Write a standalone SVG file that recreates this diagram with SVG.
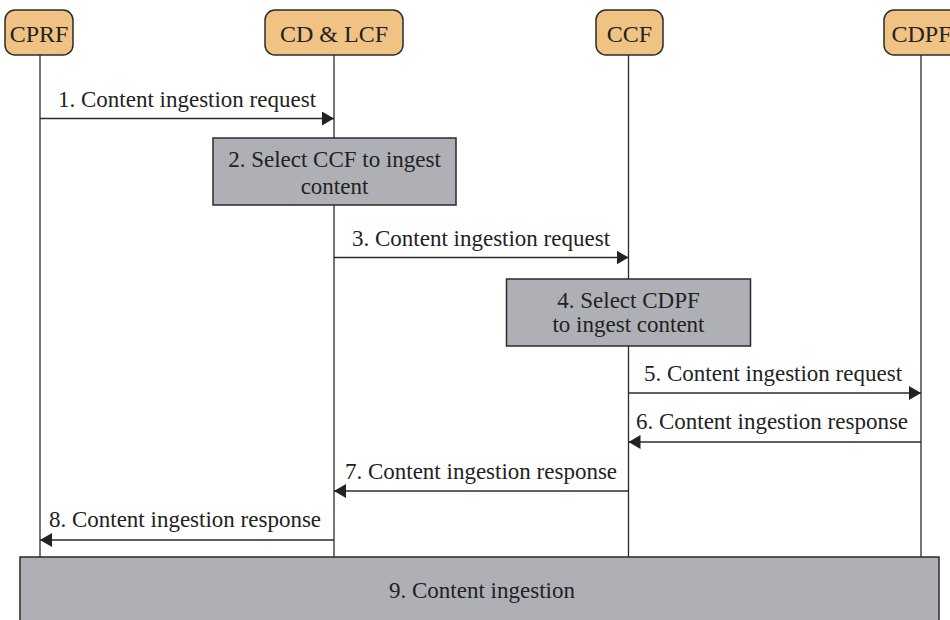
<svg xmlns="http://www.w3.org/2000/svg" width="950" height="620" viewBox="0 0 950 620">
<defs>
<style>
.hdr{fill:#f0c283;stroke:#2b2b2b;stroke-width:1.5}
.act{fill:#aeb0b6;stroke:#2b2b2b;stroke-width:1.5}
.life{stroke:#2b2b2b;stroke-width:1.3;fill:none}
.msg{stroke:#2b2b2b;stroke-width:1.3;fill:none}
text{fill:#222;text-anchor:middle}
.h{font-size:24px}
.t{font-size:23px}
</style>
<marker id="ah" viewBox="0 0 12 14" refX="12" refY="7" markerWidth="12" markerHeight="14" markerUnits="userSpaceOnUse" orient="auto">
<path d="M0,0 L12,7 L0,14 Z" fill="#222"/>
</marker>
</defs>
<rect width="950" height="620" fill="#fff"/>
<g id="lifelines">
<line class="life" x1="40" y1="55" x2="40" y2="557"/>
<line class="life" x1="334" y1="55" x2="334" y2="557"/>
<line class="life" x1="628.5" y1="55" x2="628.5" y2="557"/>
<line class="life" x1="921" y1="55" x2="921" y2="557"/>
</g>
<g font-family="'Liberation Serif', 'DejaVu Serif', serif">
<g id="CPRF"><rect class="hdr" x="5" y="10" width="68" height="45" rx="10"/><text class="h" x="39" y="42">CPRF</text></g>
<g id="CDLCF"><rect class="hdr" x="265" y="10" width="138" height="45" rx="10"/><text class="h" x="334" y="42">CD &amp; LCF</text></g>
<g id="CCF"><rect class="hdr" x="596" y="10" width="67" height="45" rx="10"/><text class="h" x="629.5" y="42">CCF</text></g>
<g id="CDPF"><rect class="hdr" x="884" y="10" width="76" height="45" rx="10"/><text class="h" x="921.5" y="42">CDPF</text></g>
<g id="step2"><rect class="act" x="213" y="138" width="243" height="67"/><text class="t" x="334.5" y="167">2. Select CCF to ingest</text><text class="t" x="334.5" y="194">content</text></g>
<g id="step4"><rect class="act" x="506.5" y="279" width="244" height="67"/><text class="t" x="628.5" y="308">4. Select CDPF</text><text class="t" x="628.5" y="332">to ingest content</text></g>
<g id="step9"><rect class="act" x="20" y="557" width="919" height="70"/><text class="t" x="482" y="598">9. Content ingestion</text></g>
<g id="connectors">
<line class="msg" x1="40" y1="118.5" x2="334" y2="118.5" marker-end="url(#ah)"/>
<line class="msg" x1="334" y1="257.5" x2="628.5" y2="257.5" marker-end="url(#ah)"/>
<line class="msg" x1="628.5" y1="393" x2="921" y2="393" marker-end="url(#ah)"/>
<line class="msg" x1="921" y1="442" x2="628.5" y2="442" marker-end="url(#ah)"/>
<line class="msg" x1="628.5" y1="491" x2="334" y2="491" marker-end="url(#ah)"/>
<line class="msg" x1="334" y1="540" x2="40" y2="540" marker-end="url(#ah)"/>
</g>
<g id="labels">
<text class="t" x="187" y="107">1. Content ingestion request</text>
<text class="t" x="481" y="246">3. Content ingestion request</text>
<text class="t" x="773" y="381">5. Content ingestion request</text>
<text class="t" x="772" y="429">6. Content ingestion response</text>
<text class="t" x="481" y="479">7. Content ingestion response</text>
<text class="t" x="185" y="527">8. Content ingestion response</text>
</g>
</g>
</svg>
